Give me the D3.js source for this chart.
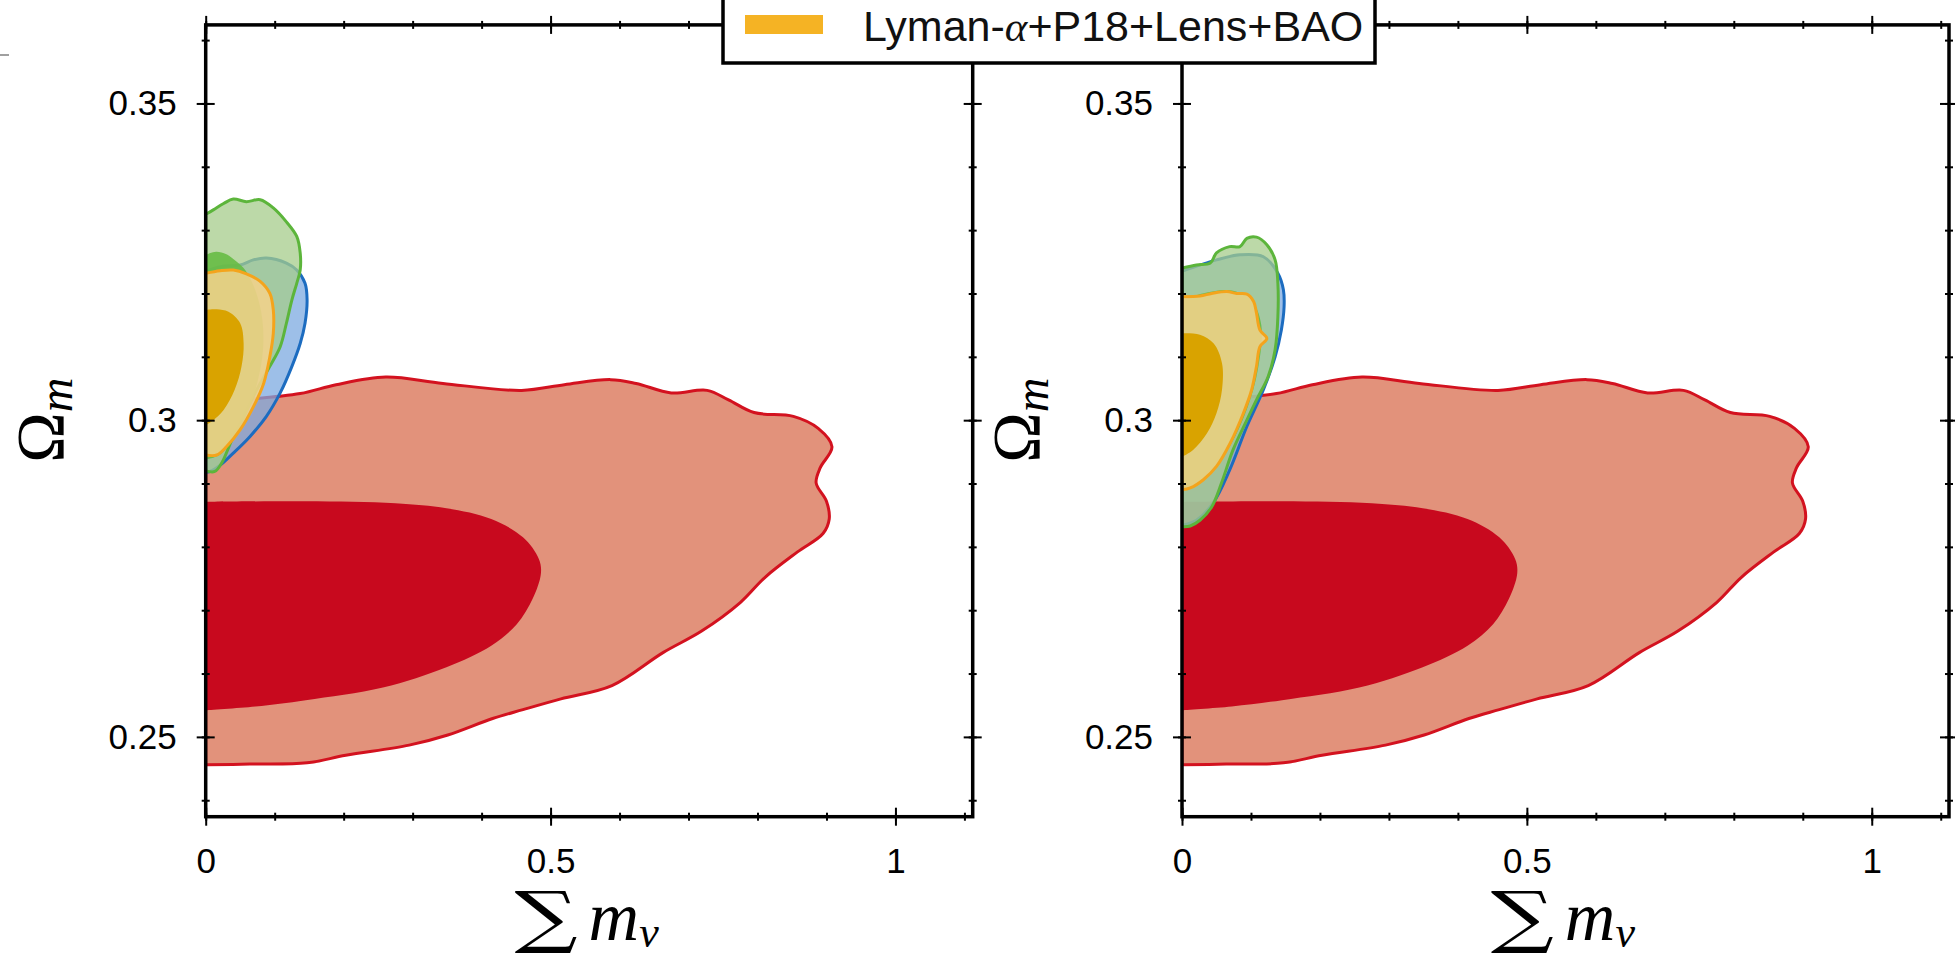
<!DOCTYPE html>
<html>
<head>
<meta charset="utf-8">
<script src="https://cdn.jsdelivr.net/npm/d3@7"></script>
<style>
  body { margin: 0; background: #fff; }
  svg { display: block; }
</style>
</head>
<body>
<script>
// axis setup
var xDomain = [0, 1.112];
var yDomain = [0.2374, 0.3624];
var xMajor = [0, 0.5, 1];
var yMajor = [0.25, 0.3, 0.35];
var xMinor = [0, 0.1, 0.2, 0.3, 0.4, 0.5, 0.6, 0.7, 0.8, 0.9, 1.0, 1.1];
var yMinor = [0.24, 0.25, 0.26, 0.27, 0.28, 0.29, 0.3, 0.31, 0.32, 0.33, 0.34, 0.35, 0.36];
var legendLabel = ["Lyman-", "α", "+P18+Lens+BAO"];

// red contours (same in both panels), [sum m_nu, Omega_m]
var red2 = [[0, 0.3028], [0.05, 0.3032], [0.137, 0.3042], [0.189, 0.3056], [0.261, 0.3068],
    [0.344, 0.3058], [0.458, 0.3047], [0.520, 0.3056], [0.587, 0.3064], [0.624, 0.3058],
    [0.675, 0.3043], [0.727, 0.3047], [0.758, 0.3032], [0.795, 0.3012], [0.852, 0.3006],
    [0.888, 0.2987], [0.908, 0.2958], [0.891, 0.2925], [0.885, 0.2901], [0.900, 0.2872],
    [0.904, 0.2844], [0.895, 0.2821], [0.858, 0.2792], [0.811, 0.2752], [0.775, 0.2712],
    [0.719, 0.2667], [0.663, 0.2633], [0.589, 0.2581], [0.515, 0.2560], [0.460, 0.2543],
    [0.416, 0.2529], [0.351, 0.2503], [0.295, 0.2487], [0.203, 0.2471], [0.147, 0.2459],
    [0.064, 0.2457], [0, 0.2456]];
var red1 = [[0, 0.2871], [0.145, 0.2872], [0.275, 0.2869], [0.349, 0.2861], [0.414, 0.2844],
    [0.460, 0.2815], [0.483, 0.2781], [0.486, 0.2758], [0.474, 0.2718], [0.451, 0.2678],
    [0.414, 0.2644], [0.349, 0.2610], [0.257, 0.2578], [0.145, 0.2558], [0.072, 0.2548],
    [0, 0.2542]];

// left panel
var leftBlue2 = [[0, 0.3235], [0.025, 0.3243], [0.050, 0.3245], [0.069, 0.3253], [0.088, 0.3256],
    [0.117, 0.3248], [0.132, 0.3237], [0.144, 0.3216], [0.147, 0.3190], [0.144, 0.3153],
    [0.137, 0.3121], [0.125, 0.3085], [0.108, 0.3043], [0.088, 0.3006], [0.064, 0.2974],
    [0.040, 0.2948], [0.021, 0.2929], [0.006, 0.2919], [0, 0.2918]];
var leftGreen2 = [[0, 0.3325], [0.011, 0.3332], [0.026, 0.3342], [0.040, 0.3349], [0.059, 0.3345],
    [0.079, 0.3348], [0.098, 0.3335], [0.117, 0.3313], [0.132, 0.3290], [0.137, 0.3264],
    [0.137, 0.3237], [0.132, 0.3216], [0.125, 0.3190], [0.117, 0.3153], [0.108, 0.3116],
    [0.093, 0.3085], [0.074, 0.3048], [0.055, 0.3006], [0.038, 0.2969], [0.023, 0.2932],
    [0.013, 0.2919], [0, 0.2920]];
var leftGreen1 = [[0, 0.3261], [0.015, 0.3266], [0.030, 0.3262], [0.045, 0.3250], [0.058, 0.3236],
    [0.072, 0.3205], [0.082, 0.3160], [0.083, 0.3110], [0.075, 0.3060], [0.060, 0.3010],
    [0.040, 0.2970], [0.020, 0.2945], [0, 0.2938]];
var leftOrange2 = [[0, 0.3232], [0.021, 0.3236], [0.040, 0.3237], [0.059, 0.3231], [0.079, 0.3219],
    [0.093, 0.3200], [0.098, 0.3174], [0.098, 0.3137], [0.093, 0.3100], [0.084, 0.3058],
    [0.069, 0.3021], [0.050, 0.2985], [0.030, 0.2958], [0.016, 0.2945], [0, 0.2945]];
var leftOrange1 = [[0, 0.3174], [0.016, 0.3175], [0.033, 0.3171], [0.050, 0.3153], [0.055, 0.3121],
    [0.052, 0.3085], [0.042, 0.3048], [0.026, 0.3016], [0.011, 0.3000], [0, 0.2992]];

// right panel
var rightBlue2 = [[0, 0.3235], [0.050, 0.3253], [0.084, 0.3261], [0.118, 0.3258], [0.139, 0.3232],
    [0.147, 0.3206], [0.148, 0.3179], [0.144, 0.3142], [0.135, 0.3100], [0.118, 0.3048],
    [0.094, 0.2990], [0.069, 0.2921], [0.045, 0.2869], [0.021, 0.2842], [0, 0.2834]];
var rightGreen2 = [[0, 0.3240], [0.021, 0.3245], [0.041, 0.3248], [0.050, 0.3264], [0.069, 0.3274],
    [0.084, 0.3274], [0.094, 0.3287], [0.108, 0.3289], [0.123, 0.3277], [0.135, 0.3253],
    [0.139, 0.3216], [0.139, 0.3163], [0.135, 0.3111], [0.125, 0.3069], [0.108, 0.3032],
    [0.094, 0.3000], [0.074, 0.2953], [0.057, 0.2900], [0.043, 0.2863], [0.026, 0.2842],
    [0.012, 0.2833], [0, 0.2832]];
var rightGreen1 = [[0, 0.3190], [0.03, 0.3200], [0.07, 0.3205], [0.10, 0.3190], [0.115, 0.3150],
    [0.110, 0.3080], [0.095, 0.3020], [0.070, 0.2960], [0.040, 0.2915], [0.015, 0.2895],
    [0, 0.2890]];
var rightOrange2 = [[0, 0.3195], [0.026, 0.3196], [0.043, 0.3200], [0.065, 0.3203], [0.079, 0.3200],
    [0.094, 0.3199], [0.104, 0.3187], [0.108, 0.3169], [0.113, 0.3142], [0.123, 0.3129],
    [0.113, 0.3116], [0.108, 0.3085], [0.101, 0.3048], [0.089, 0.3011], [0.070, 0.2964],
    [0.050, 0.2927], [0.031, 0.2906], [0.012, 0.2893], [0, 0.2890]];
var rightOrange1 = [[0, 0.3137], [0.026, 0.3135], [0.046, 0.3121], [0.058, 0.3090], [0.058, 0.3048],
    [0.050, 0.3011], [0.036, 0.2979], [0.016, 0.2953], [0, 0.2942]];

var w = 1955, h = 964;
var plotW = 767, plotTop = 24.9, plotBottom = 816.7;

var svg = d3.select("body").append("svg")
    .attr("width", w)
    .attr("height", h);

// small grey mark at top left
svg.append("line")
    .attr("x1", 0).attr("x2", 9)
    .attr("y1", 55).attr("y2", 55)
    .attr("stroke", "#a0a0a0")
    .attr("stroke-width", 2);

var panels = [
    {x0: 205.7, sets: [red2, red1, leftBlue2, leftGreen2, leftGreen1, leftOrange2, leftOrange1]},
    {x0: 1182, sets: [red2, red1, rightBlue2, rightGreen2, rightGreen1, rightOrange2, rightOrange1]}
];

// style of each contour, same order as sets
var styles = [
    {fill: "#e2927b", op: 1, stroke: "#d3121f"},
    {fill: "#c8091e", op: 1, stroke: "none"},
    {fill: "#7caae0", op: 0.75, stroke: "#1c6cc0"},
    {fill: "#a6cc8b", op: 0.75, stroke: "#5cb53b"},
    {fill: "#66bb44", op: 0.9, stroke: "none"},
    {fill: "#f2d28a", op: 0.88, stroke: "#f4a41c"},
    {fill: "#d9a300", op: 1, stroke: "none"}
];

panels.forEach(function (p, i) {
    var xScale = d3.scaleLinear().domain(xDomain).range([p.x0, p.x0 + plotW]);
    var yScale = d3.scaleLinear().domain(yDomain).range([plotBottom, plotTop]);

    var g = svg.append("g");

    svg.append("clipPath").attr("id", "clip" + i)
        .append("rect")
        .attr("x", xScale(xDomain[0])).attr("y", yScale(yDomain[1]))
        .attr("width", xScale(xDomain[1]) - xScale(xDomain[0]))
        .attr("height", yScale(yDomain[0]) - yScale(yDomain[1]));

    var line = d3.line()
        .x(function (d) { return xScale(d[0]); })
        .y(function (d) { return yScale(d[1]); })
        .curve(d3.curveCatmullRom.alpha(0.5));

    g.append("g").attr("clip-path", "url(#clip" + i + ")")
        .selectAll("path")
        .data(p.sets)
        .enter()
        .append("path")
        .attr("d", function (d) { return line(d) + "Z"; })
        .attr("fill", function (d, k) { return styles[k].fill; })
        .attr("fill-opacity", function (d, k) { return styles[k].op; })
        .attr("stroke", function (d, k) { return styles[k].stroke; })
        .attr("stroke-width", 3)
        .attr("stroke-linejoin", "round");

    // frame
    g.append("rect")
        .attr("x", xScale(xDomain[0])).attr("y", yScale(yDomain[1]))
        .attr("width", xScale(xDomain[1]) - xScale(xDomain[0]))
        .attr("height", yScale(yDomain[0]) - yScale(yDomain[1]))
        .attr("fill", "none")
        .attr("stroke", "#000")
        .attr("stroke-width", 3.5);

    // axes: major + minor on all four sides, ticks cross the frame
    function addAxis(axis, transform, half, labels) {
        var a = g.append("g")
            .attr("transform", transform)
            .call(axis);
        a.select(".domain").remove();
        a.selectAll(".tick line")
            .attr("stroke", "#000")
            .attr("stroke-width", 2);
        a.selectAll(".tick line").each(function () {
            var l = d3.select(this);
            if (l.attr("x2") != null && +l.attr("x2") !== 0) l.attr("x1", -half).attr("x2", half);
            else l.attr("y1", -half).attr("y2", half);
        });
        a.selectAll("text")
            .attr("font-family", "'Liberation Sans', Arial, sans-serif")
            .attr("font-size", 35)
            .attr("fill", "#000");
        if (!labels) a.selectAll("text").remove();
        return a;
    }

    var bottomY = "translate(0," + plotBottom + ")";
    var topY = "translate(0," + plotTop + ")";
    var leftX = "translate(" + xScale(0) + ",0)";
    var rightX = "translate(" + xScale(xDomain[1]) + ",0)";

    addAxis(d3.axisBottom(xScale).tickValues(xMajor).tickSize(9).tickPadding(22)
        .tickFormat(d3.format("")), bottomY, 9, true);
    addAxis(d3.axisBottom(xScale).tickValues(xMinor).tickSize(4).tickFormat(""), bottomY, 4, false);
    addAxis(d3.axisTop(xScale).tickValues(xMajor).tickSize(9).tickFormat(""), topY, 9, false);
    addAxis(d3.axisTop(xScale).tickValues(xMinor).tickSize(4).tickFormat(""), topY, 4, false);
    addAxis(d3.axisLeft(yScale).tickValues(yMajor).tickSize(9).tickPadding(20)
        .tickFormat(d3.format("")), leftX, 9, true);
    addAxis(d3.axisLeft(yScale).tickValues(yMinor).tickSize(4).tickFormat(""), leftX, 4, false);
    addAxis(d3.axisRight(yScale).tickValues(yMajor).tickSize(9).tickFormat(""), rightX, 9, false);
    addAxis(d3.axisRight(yScale).tickValues(yMinor).tickSize(4).tickFormat(""), rightX, 4, false);

    // y label: Omega_m
    var yl = g.append("text")
        .attr("transform", "translate(" + (p.x0 - 143) + "," + yScale(0.3) + ") rotate(-90)")
        .attr("text-anchor", "middle")
        .attr("font-family", "'Liberation Serif', 'DejaVu Serif', serif")
        .attr("fill", "#000");
    yl.append("tspan").attr("font-size", 68).text("Ω");
    yl.append("tspan").attr("font-size", 48).attr("font-style", "italic").attr("dy", 9).text("m");

    // x label: sum m_nu
    var cx = xScale(0.5);
    g.append("text")
        .attr("transform", "translate(" + (cx - 36) + ",940) scale(1.3,1)")
        .attr("font-family", "'DejaVu Serif', serif")
        .attr("font-size", 68)
        .attr("fill", "#000")
        .text("∑");
    var xl = g.append("text")
        .attr("x", cx + 38)
        .attr("y", 940)
        .attr("font-family", "'Liberation Serif', serif")
        .attr("font-style", "italic")
        .attr("fill", "#000");
    xl.append("tspan")
        .attr("font-size", 70)
        .text("m");
    xl.append("tspan")
        .attr("font-size", 44)
        .attr("dy", 7)
        .text("ν");
});

// legend
var leg = svg.append("g");
leg.append("rect")
    .attr("x", 723).attr("y", -5)
    .attr("width", 652).attr("height", 68)
    .attr("fill", "#fff")
    .attr("stroke", "#000")
    .attr("stroke-width", 3.5);
leg.append("rect")
    .attr("x", 745).attr("y", 15)
    .attr("width", 78).attr("height", 19)
    .attr("fill", "#f5b324");
var lt = leg.append("text")
    .attr("x", 863).attr("y", 41)
    .attr("font-family", "'Liberation Sans', Arial, sans-serif")
    .attr("font-size", 43)
    .attr("fill", "#111");
lt.append("tspan").text(legendLabel[0]);
lt.append("tspan").attr("font-family", "'Liberation Serif', serif").attr("font-style", "italic").text(legendLabel[1]);
lt.append("tspan").text(legendLabel[2]);
</script>
</body>
</html>
